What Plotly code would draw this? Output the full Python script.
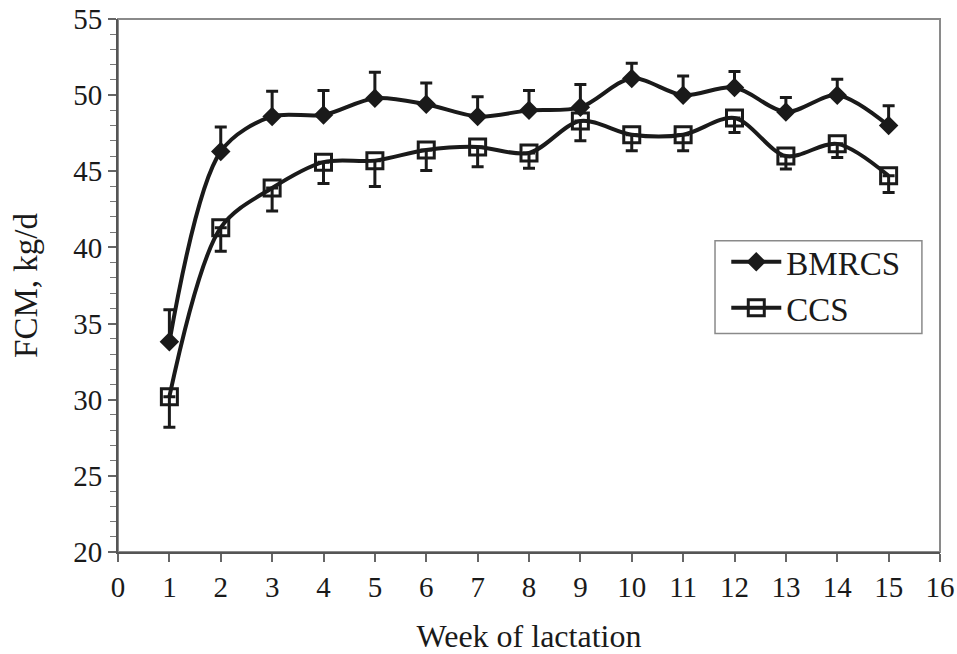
import plotly.graph_objects as go

# Fat-corrected milk yield by week of lactation
weeks = list(range(1, 16))
bmrcs = [33.8, 46.3, 48.6, 48.7, 49.8, 49.4, 48.6, 49.0, 49.2, 51.1, 50.0, 50.5, 48.9, 50.0, 48.0]
bmrcs_se = [2.1, 1.6, 1.65, 1.6, 1.7, 1.4, 1.3, 1.3, 1.5, 1.0, 1.25, 1.05, 0.95, 1.05, 1.3]
ccs = [30.2, 41.3, 43.9, 45.6, 45.7, 46.4, 46.6, 46.2, 48.3, 47.4, 47.4, 48.5, 46.0, 46.8, 44.7]
ccs_se = [2.0, 1.55, 1.5, 1.4, 1.7, 1.35, 1.3, 1.0, 1.3, 1.05, 1.05, 0.95, 0.85, 0.9, 1.1]

x_ticks = list(range(0, 17))
y_ticks = [20, 25, 30, 35, 40, 45, 50, 55]

FONT = "Liberation Serif, Times New Roman, serif"
INK = "#1a1a1a"

fig = go.Figure()

# BMRCS: filled diamonds, upper error bars
fig.add_trace(go.Scatter(
    x=weeks, y=bmrcs, name="BMRCS", mode="lines+markers",
    line=dict(color=INK, width=4, shape="spline", smoothing=0.9),
    marker=dict(symbol="diamond", size=15, color=INK),
    error_y=dict(type="data", symmetric=False, array=bmrcs_se,
                 arrayminus=[0] * len(bmrcs_se),
                 color=INK, thickness=3, width=6),
))

# CCS: open squares, lower error bars
fig.add_trace(go.Scatter(
    x=weeks, y=ccs, name="CCS", mode="lines+markers",
    line=dict(color=INK, width=4, shape="spline", smoothing=0.9),
    marker=dict(symbol="square-open", size=16, color=INK, line=dict(width=3, color=INK)),
    error_y=dict(type="data", symmetric=False, array=[0] * len(ccs_se),
                 arrayminus=ccs_se, color=INK, thickness=3, width=6),
))

# light frame around the plotting area
fig.add_shape(type="rect", xref="paper", yref="paper", x0=0, y0=0, x1=1, y1=1,
              line=dict(color="#8a8a8a", width=2), layer="below")
# box around the legend entries
fig.add_shape(type="rect", xref="paper", yref="paper", x0=0.7263, y0=0.410, x1=0.978, y1=0.584,
              line=dict(color="#8a8a8a", width=1.5), fillcolor="white", layer="below")

fig.update_layout(
    width=957, height=654,
    margin=dict(l=118, r=17, t=19, b=102),
    paper_bgcolor="white", plot_bgcolor="white",
    font=dict(family=FONT, color=INK, size=28),
    showlegend=True,
    legend=dict(
        x=0.740, y=0.597, xanchor="left", yanchor="top",
        bgcolor="rgba(0,0,0,0)", borderwidth=0,
        font=dict(family=FONT, size=33, color=INK),
        itemwidth=50, tracegroupgap=0,
    ),
    xaxis=dict(
        range=[0, 16], tickvals=x_ticks, ticktext=[str(v) for v in x_ticks],
        showgrid=False, zeroline=False,
        showline=True, linecolor="#555555", linewidth=2,
        ticks="outside", ticklen=8, tickwidth=1.5, tickcolor="#666666",
        tickfont=dict(family=FONT, size=29, color=INK),
        title=dict(text="Week of lactation", font=dict(family=FONT, size=32, color=INK), standoff=28),
        automargin=False,
    ),
    yaxis=dict(
        range=[20, 55], tickvals=y_ticks, ticktext=[str(v) for v in y_ticks],
        showgrid=False, zeroline=False,
        showline=True, linecolor="#555555", linewidth=2,
        ticks="outside", ticklen=8, tickwidth=1.5, tickcolor="#666666",
        minor=dict(dtick=1, ticks="outside", ticklen=6, tickwidth=1, tickcolor="#777777", showgrid=False),
        tickfont=dict(family=FONT, size=29, color=INK),
        title=dict(text="FCM, kg/d", font=dict(family=FONT, size=33, color=INK), standoff=26),
        automargin=False,
    ),
)

fig.write_html("out.html")
